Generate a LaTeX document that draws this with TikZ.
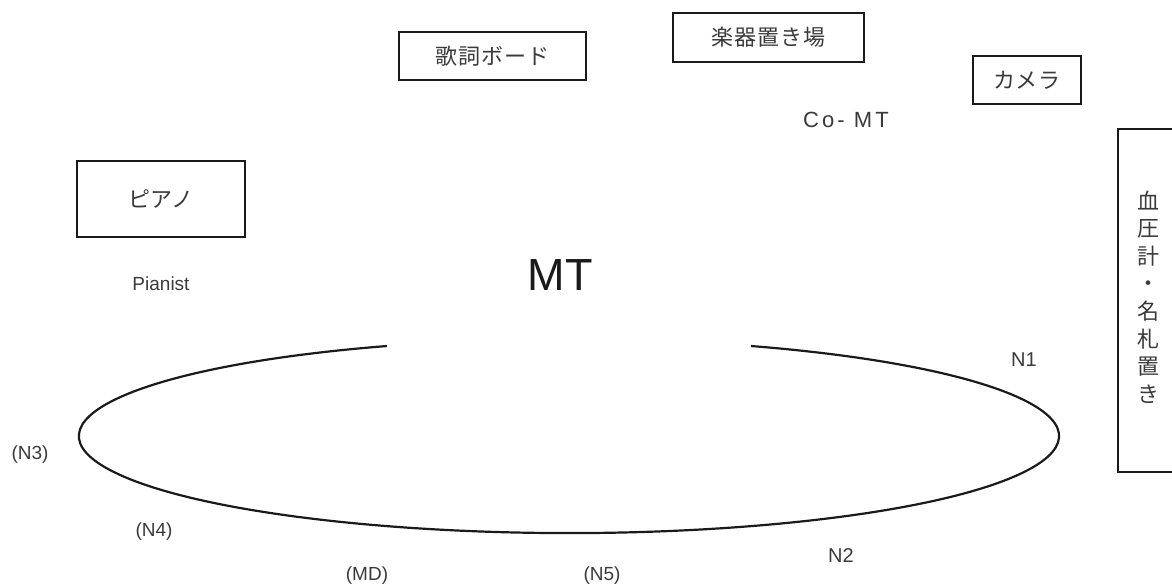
\documentclass[tikz,border=0pt]{standalone}
\usepackage{fontspec}
\setmainfont{Liberation Sans}
\newfontfamily\jp[LetterSpace=4]{Noto Sans CJK JP}
\newfontfamily\jpv{Noto Sans CJK JP}
\definecolor{txt}{HTML}{3A3A3A}
\definecolor{ink}{HTML}{1A1A1A}
\begin{document}
\begin{tikzpicture}[x=1pt,y=-1pt,
  box/.style={draw=ink, line width=2pt, inner sep=0pt, text=txt,
    font=\jp\fontsize{22}{26}\selectfont},
  lbl/.style={text=txt, inner sep=0pt, font=\fontsize{19}{22}\selectfont},
  ring/.style={draw=ink, line width=2.2pt}]
\useasboundingbox (0,0) rectangle (1172,584);

\node[box, minimum width=187pt, minimum height=48pt] (lyrics) at (492.5,56) {歌詞ボード};
\node[box, minimum width=191pt, minimum height=49pt] (instr) at (768.5,37.5) {楽器置き場};
\node[box, minimum width=108pt, minimum height=48pt] (camera) at (1027,80) {カメラ};
\node[box, minimum width=168pt, minimum height=76pt] (piano) at (161,199) {ピアノ};

% open box on the right edge
\coordinate (bpTop) at (1180,129);
\coordinate (bpBot) at (1180,472);
\draw[draw=ink, line width=2pt] (bpTop) -| (1118,472) -- (bpBot);
\node[text=txt, align=center, inner sep=0pt, font=\jpv\fontsize{22}{27.6}\selectfont] (bp) at (1148,297)
  {血\\圧\\計\\・\\名\\札\\置\\き};

\node[lbl] (pianist) at (161,284) {Pianist};
\node[text=ink, inner sep=0pt, font=\fontsize{45}{50}\selectfont] (mt) at (560,275) {MT};
\node[lbl, font=\addfontfeatures{LetterSpace=14}\fontsize{22}{25}\selectfont] (comt) at (846,120) {Co- MT};

% the ring
\coordinate (ringL) at (387,346);
\draw[ring] (ringL) arc[start angle=111.8, end angle=428.2, x radius=490pt, y radius=97pt] coordinate (ringR);

\node[lbl, font=\fontsize{20}{22}\selectfont] (n1) at (1024,360) {N1};
\node[lbl, font=\fontsize{20}{22}\selectfont] (n2) at (841,556) {N2};
\node[lbl] (n3) at (30,455) {(N3)};
\node[lbl] (n4) at (154,532) {(N4)};
\node[lbl] (md) at (367,576) {(MD)};
\node[lbl] (n5) at (602,576) {(N5)};
\end{tikzpicture}
\end{document}
